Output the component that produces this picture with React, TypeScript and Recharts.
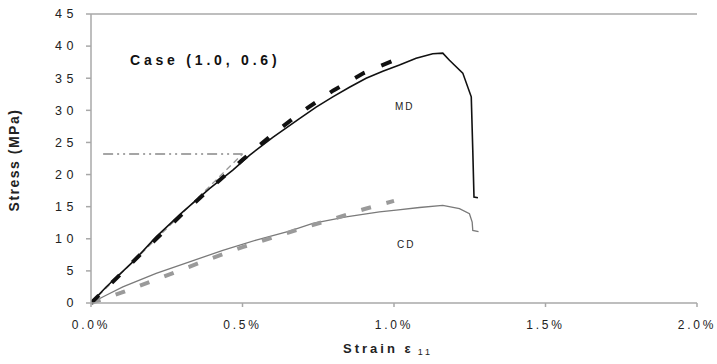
import { LineChart, Line, XAxis, YAxis, ReferenceLine } from "recharts";

// experimental curves (strain in %, stress in MPa)
const mdStrain = [0, 0.05, 0.138, 0.215, 0.303, 0.391, 0.468, 0.523, 0.600, 0.688, 0.743, 0.798, 0.853, 0.908, 0.963, 1.018, 1.073, 1.128, 1.161, 1.183, 1.227, 1.255, 1.260, 1.264, 1.277];
const mdStress = [0, 2.5, 6.4, 10.3, 14.2, 17.8, 20.7, 23.0, 25.8, 28.7, 30.5, 32.1, 33.6, 35.0, 36.1, 37.05, 38.1, 38.8, 38.9, 37.8, 35.8, 32.1, 23.8, 16.5, 16.4];

const cdStrain = [0, 0.05, 0.105, 0.215, 0.325, 0.435, 0.545, 0.655, 0.732, 0.842, 0.952, 1.007, 1.084, 1.161, 1.216, 1.249, 1.258, 1.260, 1.279];
const cdStress = [0, 1.2, 2.5, 4.6, 6.4, 8.2, 9.8, 11.2, 12.4, 13.4, 14.2, 14.45, 14.87, 15.2, 14.7, 13.9, 12.6, 11.3, 11.1];

// model predictions
const modelStrain = [0, 0.1, 0.2, 0.3, 0.4, 0.5, 0.6, 0.7, 0.8, 0.9, 1.0];
const mdModel = [0, 4.6, 9.3, 13.8, 18.1, 22.3, 26.3, 29.9, 33.1, 35.8, 37.8];
const cdModel = [0, 1.6, 3.4, 5.2, 7.0, 8.7, 10.2, 11.7, 13.1, 14.6, 15.9];

// yield construction lines
const tangentStrain = [0, 0.5];
const tangentStress = [0, 23.2];
const yieldStrain = [0.04, 0.5];
const yieldStress = [23.2, 23.2];

const xTicks = [0, 0.5, 1.0, 1.5, 2.0];
const yTicks = [0, 5, 10, 15, 20, 25, 30, 35, 40, 45];

const zip = (xs: number[], ys: number[]) => xs.map((x, i) => ({ x, y: ys[i] }));

const AXIS = "#a8a8a8";
const FONT = "'Liberation Sans', Arial, sans-serif";

const XTick = (props: any) => (
  <text x={props.x} y={props.y} dy="0.71em" textAnchor="middle" fontFamily={FONT} fontSize={12} fill="#222" letterSpacing={2.8}>
    {Number(props.payload.value).toFixed(1) + "%"}
  </text>
);

const YTick = (props: any) => (
  <text x={props.x} y={props.y} dy="0.35em" textAnchor="end" fontFamily={FONT} fontSize={12.5} fill="#222" letterSpacing={4.5}>
    {props.payload.value}
  </text>
);

export default function App() {
  return (
    <div style={{ position: "absolute", left: 0, top: 0, width: 717, height: 364, background: "#fff", fontFamily: FONT }}>
      <LineChart width={717} height={364} margin={{ top: 14, right: 20, bottom: 31, left: 31 }}>
        <XAxis
          type="number"
          dataKey="x"
          domain={[0, 2]}
          ticks={xTicks}
          height={30}
          stroke={AXIS}
          strokeWidth={1.5}
          tickSize={4}
          tickMargin={13}
          tick={<XTick />}
          allowDataOverflow
        />
        <YAxis
          type="number"
          dataKey="y"
          domain={[0, 45]}
          ticks={yTicks}
          width={60}
          stroke={AXIS}
          strokeWidth={1.5}
          tickSize={5}
          tickMargin={8}
          tick={<YTick />}
        />
        <ReferenceLine y={45} stroke={AXIS} strokeWidth={1.5} />
        <Line data={zip(yieldStrain, yieldStress)} dataKey="y" stroke="#888" strokeWidth={1.3} strokeDasharray="10 4 2 4 2 4" dot={false} isAnimationActive={false} />
        <Line data={zip(tangentStrain, tangentStress)} dataKey="y" stroke="#999" strokeWidth={1.3} strokeDasharray="6 4" dot={false} isAnimationActive={false} />
        <Line data={zip(cdStrain, cdStress)} dataKey="y" stroke="#7a7a7a" strokeWidth={1.3} dot={false} isAnimationActive={false} />
        <Line data={zip(modelStrain, cdModel)} dataKey="y" stroke="#9a9a9a" strokeWidth={4} strokeDasharray="10 16" dot={false} isAnimationActive={false} />
        <Line data={zip(mdStrain, mdStress)} dataKey="y" stroke="#111" strokeWidth={1.6} dot={false} isAnimationActive={false} />
        <Line data={zip(modelStrain, mdModel)} dataKey="y" stroke="#111" strokeWidth={4} strokeDasharray="11 18" dot={false} isAnimationActive={false} />
      </LineChart>

      <div style={{ position: "absolute", left: 130, top: 52, fontSize: 14, fontWeight: "bold", letterSpacing: 3.8, color: "#111", whiteSpace: "nowrap" }}>
        Case (1.0, 0.6)
      </div>
      <div style={{ position: "absolute", left: 395, top: 101, fontSize: 10, letterSpacing: 2, color: "#222" }}>MD</div>
      <div style={{ position: "absolute", left: 397, top: 239, fontSize: 10, letterSpacing: 2, color: "#222" }}>CD</div>
      <div
        style={{
          position: "absolute",
          left: 14,
          top: 160,
          transform: "translate(-50%, -50%) rotate(-90deg)",
          fontSize: 14,
          fontWeight: "bold",
          letterSpacing: 1.5,
          color: "#222",
          whiteSpace: "nowrap",
        }}
      >
        Stress (MPa)
      </div>
      <div style={{ position: "absolute", left: 343, top: 341, fontSize: 13, fontWeight: "bold", letterSpacing: 3, color: "#222", whiteSpace: "nowrap" }}>
        Strain ε<span style={{ fontSize: 9, fontWeight: "normal", marginLeft: 4, position: "relative", top: 2 }}>11</span>
      </div>
    </div>
  );
}
